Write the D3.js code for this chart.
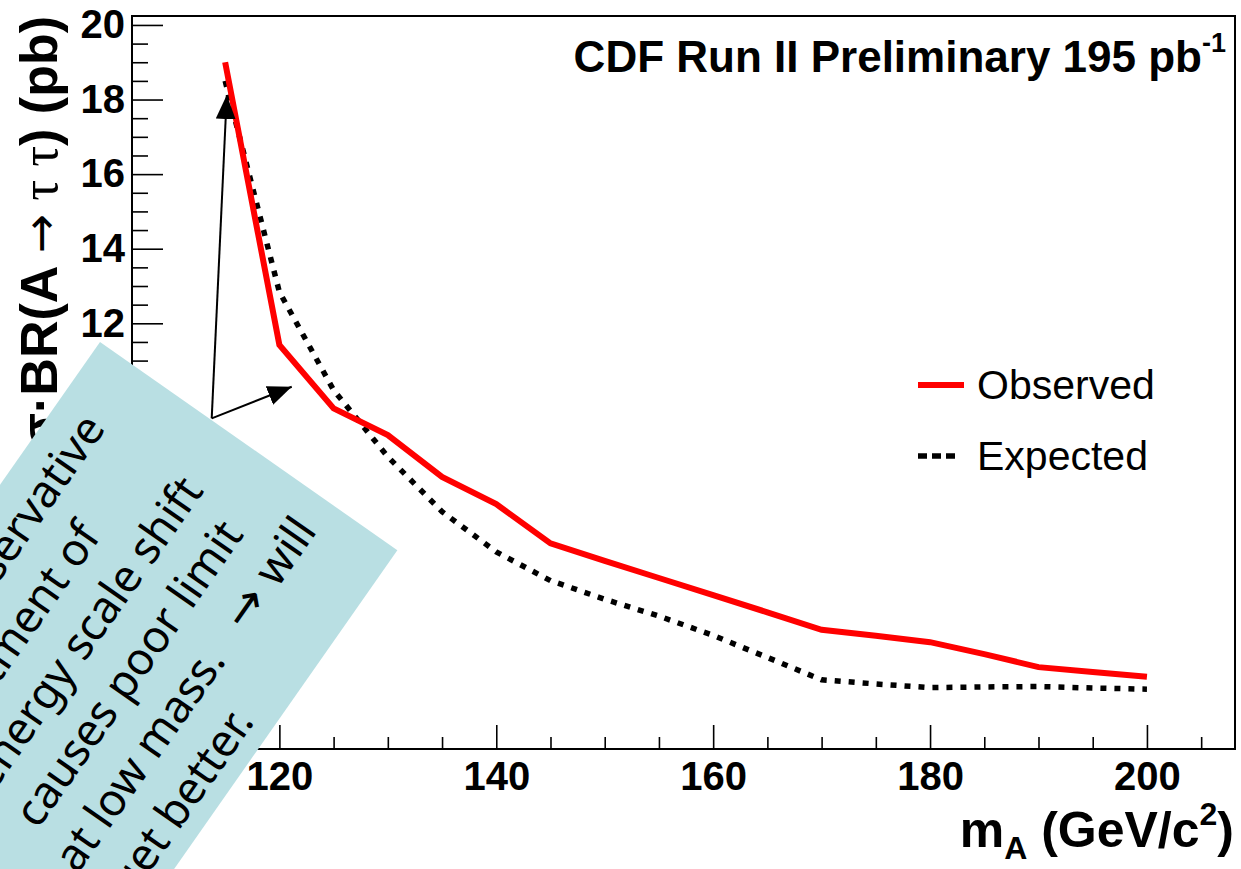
<!DOCTYPE html>
<html>
<head>
<meta charset="utf-8">
<script src="https://cdn.jsdelivr.net/npm/d3@7"></script>
<style>
	body{margin:0;background:#fff;}
	svg{display:block;}
	text{font-family:"Liberation Sans", Arial, Helvetica, sans-serif;fill:#000;}
</style>
</head>
<body>
<div id="chart"></div>
<script>
// values (m_A in GeV/c^2, limit in pb)
const massPoints = [115,120,125,130,135,140,145,150,155,160,165,170,175,180,185,190,195,200];
const observed = [19.0,11.42,9.72,9.0,7.88,7.15,6.10,5.63,5.17,4.71,4.25,3.78,3.62,3.45,3.13,2.78,2.65,2.52];
const expected = [18.5,12.84,10.21,8.42,6.95,5.87,5.10,4.60,4.15,3.63,3.04,2.44,2.33,2.23,2.25,2.26,2.22,2.19];

const xTicks = [120,140,160,180,200];
const yTicks = [2,4,6,8,10,12,14,16,18,20];
const legendLabels = ['Observed','Expected'];

const noteLines = ['The conservative','treatment of','energy scale shift','causes poor limit','at low mass.\u2192will','get better.'];
// where each note line ends, along the rotated box (px)
const noteLineEnds = [-67,-158,-62,-75,-30,-222];
// arrows of the note point at the curve (data coords)
const arrowTail = {m:113.76, v:9.45};
const arrowTips = [{m:115.15, v:18.12},{m:121.14, v:10.30}];

const width = 1241;
const height = 869;
const margin = {t:16, r:6, b:120, l:132};
const w = width - (margin.l + margin.r);
const h = height - (margin.t + margin.b);

//Scales
const scaleX = d3.scaleLinear().domain([106.41, 208.12]).range([0,w]);
const scaleY = d3.scaleLinear().domain([0.585, 20.24]).range([h,0]);

const xMinor = d3.range(110, 206, 5).filter(d => d % 20 !== 0);
const yMinor = d3.range(1, 20.01, 0.5).filter(d => d % 2 !== 0);

//Build DOM
const svg = d3.select('#chart')
	.append('svg')
	.attr('width', width)
	.attr('height', height);

svg.append('rect')
	.attr('width', width)
	.attr('height', height)
	.attr('fill', '#fff');

const plot = svg.append('g')
	.attr('transform', `translate(${margin.l},${margin.t})`);

// axes, ticks pointing inwards like ROOT
const axisX = d3.axisBottom(scaleX)
	.tickValues(xTicks)
	.tickSize(-24)
	.tickPadding(13)
	.tickFormat(d3.format('d'));

const axisXMinor = d3.axisBottom(scaleX)
	.tickValues(xMinor)
	.tickSize(-12)
	.tickFormat('');

const axisY = d3.axisLeft(scaleY)
	.tickValues(yTicks)
	.tickSize(-31)
	.tickPadding(7)
	.tickFormat(d3.format('d'));

const axisYMinor = d3.axisLeft(scaleY)
	.tickValues(yMinor)
	.tickSize(-16)
	.tickFormat('');

plot.append('g').attr('class','axis-x').attr('transform',`translate(0,${h})`).call(axisX);
plot.append('g').attr('class','axis-x').attr('transform',`translate(0,${h})`).call(axisXMinor);
plot.append('g').attr('class','axis-y').call(axisY);
plot.append('g').attr('class','axis-y').call(axisYMinor);

plot.selectAll('.domain').remove();
plot.selectAll('.tick line')
	.attr('stroke','#000')
	.attr('stroke-width',1.6);
plot.selectAll('.tick text')
	.style('font-size','40px')
	.style('font-weight','bold')
	.style('font-family','"Liberation Sans", Arial, sans-serif')
	.attr('fill','#000');

// frame
plot.append('rect')
	.attr('width', w)
	.attr('height', h)
	.attr('fill', 'none')
	.attr('stroke', '#000')
	.attr('stroke-width', 2);

//Series
const lineGenerator = d3.line()
	.x(d => scaleX(d.m))
	.y(d => scaleY(d.v));

const expData = massPoints.map((m,i) => ({m:m, v:expected[i]}));
const obsData = massPoints.map((m,i) => ({m:m, v:observed[i]}));

plot.append('path')
	.datum(expData)
	.attr('d', lineGenerator)
	.attr('fill','none')
	.attr('stroke','#000')
	.attr('stroke-width',5.5)
	.attr('stroke-dasharray','6 8');

plot.append('path')
	.datum(obsData)
	.attr('d', lineGenerator)
	.attr('fill','none')
	.attr('stroke','#ff0000')
	.attr('stroke-width',6)
	.attr('stroke-linejoin','miter');

//Legend
const legend = svg.append('g').attr('transform','translate(918,385)');
const legendItem = legend.selectAll('g')
	.data(legendLabels)
	.enter()
	.append('g')
	.attr('transform',(d,i) => `translate(0,${i*71})`);

legendItem.append('line')
	.attr('x1',0).attr('x2',(d,i) => i ? 39 : 46)
	.attr('stroke',(d,i) => i ? '#000' : '#ff0000')
	.attr('stroke-width',(d,i) => i ? 5.5 : 6)
	.attr('stroke-dasharray',(d,i) => i ? '9 5' : null);

legendItem.append('text')
	.attr('x',59)
	.attr('y',14)
	.style('font-size','41px')
	.text(d => d);

//Titles
const title = svg.append('text')
	.attr('x',1226)
	.attr('y',72)
	.attr('text-anchor','end')
	.style('font-size','44px')
	.style('font-weight','bold');
title.append('tspan').text('CDF Run II Preliminary 195 pb');
title.append('tspan').attr('dy',-20).style('font-size','27px').text('-1');

const xTitle = svg.append('text')
	.attr('x',1234)
	.attr('y',847)
	.attr('text-anchor','end')
	.style('font-size','50px')
	.style('font-weight','bold');
xTitle.append('tspan').text('m');
xTitle.append('tspan').attr('dy',12).style('font-size','32px').text('A');
xTitle.append('tspan').attr('dy',-12).text(' (GeV/c');
xTitle.append('tspan').attr('dy',-22).style('font-size','32px').text('2');
xTitle.append('tspan').attr('dy',22).text(')');

const yTitle = svg.append('text')
	.attr('transform','translate(57,16) rotate(-90)')
	.attr('text-anchor','end')
	.style('font-size','52px')
	.style('font-weight','bold');
yTitle.append('tspan').text('\u03c3\u00b7BR(A ');
yTitle.append('tspan').style('font-weight','normal').style('font-family','"DejaVu Sans", sans-serif').style('font-size','47px').text('\u2192');
yTitle.append('tspan').style('font-weight','normal').style('font-family','"Liberation Serif", serif').text(' \u03c4 \u03c4');
yTitle.append('tspan').text(') (pb)');

//Note with arrows
const defs = svg.append('defs');
defs.append('marker')
	.attr('id','head')
	.attr('markerUnits','userSpaceOnUse')
	.attr('markerWidth',24)
	.attr('markerHeight',20)
	.attr('refX',24)
	.attr('refY',10)
	.attr('orient','auto')
	.append('path')
	.attr('d','M0,0L24,10L0,20Z')
	.attr('fill','#000');

plot.selectAll('.note-arrow')
	.data(arrowTips)
	.enter()
	.append('line')
	.attr('class','note-arrow')
	.attr('x1',scaleX(arrowTail.m))
	.attr('y1',scaleY(arrowTail.v))
	.attr('x2',d => scaleX(d.m))
	.attr('y2',d => scaleY(d.v))
	.attr('stroke','#000')
	.attr('stroke-width',2)
	.attr('marker-end','url(#head)');

const note = svg.append('g')
	.attr('transform','translate(100,342) rotate(-55)');

note.append('rect')
	.attr('x',-760)
	.attr('y',0)
	.attr('width',760)
	.attr('height',363)
	.attr('fill','#b9dfe3');

note.selectAll('text')
	.data(noteLines)
	.enter()
	.append('text')
	.attr('x',(d,i) => noteLineEnds[i])
	.attr('y',(d,i) => 55 + i*58)
	.attr('text-anchor','end')
	.style('font-family','"Comic Sans MS", "Noto Sans", sans-serif')
	.style('font-size','45px')
	.each(function(d){
		// the arrow sign gets its own glyph and some room
		const parts = d.split('\u2192');
		const t = d3.select(this);
		t.append('tspan').text(parts[0]);
		if (parts.length > 1) {
			t.append('tspan')
				.attr('dx',34)
				.style('font-family','"DejaVu Sans", sans-serif')
				.style('font-size','48px')
				.text('\u2192');
			t.append('tspan').attr('dx',14).text(parts[1]);
		}
	});
</script>
</body>
</html>
